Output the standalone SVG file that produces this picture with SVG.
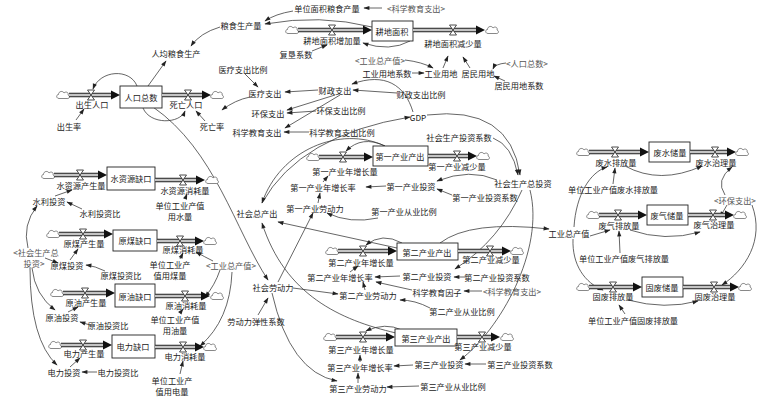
<svg xmlns="http://www.w3.org/2000/svg" width="766" height="402" viewBox="0 0 766 402">
<style>
text{font-family:"Noto Sans CJK SC","Noto Sans CJK JP",sans-serif;font-size:8.2px;fill:#222;text-anchor:middle;dominant-baseline:central}
.sh{fill:#555}
.box{fill:#fff;stroke:#222;stroke-width:0.9}
.po{fill:none;stroke:#222;stroke-width:4.6}
.pi{fill:none;stroke:#c4c4c4;stroke-width:2.4}
.ph{fill:#111}
.ln{fill:none;stroke:#333;stroke-width:0.75;marker-end:url(#a)}
</style>
<defs>
<marker id="a" viewBox="0 0 10 10" refX="9" refY="5" markerWidth="7" markerHeight="6" markerUnits="userSpaceOnUse" orient="auto"><path d="M0,1.5L10,5L0,8.5z" fill="#222"/></marker>
<path id="vl" d="M-3.5,-5h7l-7,10h7z" fill="#fff" stroke="#222" stroke-width="0.8"/>
<path id="cl" d="M-4,3.5C-7,3.5 -7,-0.5 -4.5,-0.5C-4.5,-4 0,-4.5 1,-2C3,-4 6,-2.5 5,0C7.5,1 6.5,4 4,3.5Z" fill="#fff" stroke="#555" stroke-width="0.7"/>
</defs>
<rect width="766" height="402" fill="#fff"/>

<g id="connectors">
<path class="ln" d="M293,11Q275,14 265,21"/>
<path class="ln" d="M372,27Q320,14 265,24"/>
<path class="ln" d="M382,8L364,8"/>
<path class="ln" d="M220,27Q200,33 191,46"/>
<path class="ln" d="M148,86L166,61"/>
<path class="ln" d="M312,51L327,45"/>
<path class="ln" d="M410,41Q390,52 363,43"/>
<path class="ln" d="M405,60Q422,62 433,68"/>
<path class="ln" d="M412,73L424,73"/>
<path class="ln" d="M443,68L448,56"/>
<path class="ln" d="M470,68L463,57"/>
<path class="ln" d="M506,63Q495,64 493,69"/>
<path class="ln" d="M505,81L494,76"/>
<path class="ln" d="M137,86C130,68 100,70 93,89"/>
<path class="ln" d="M76,120L84,109"/>
<path class="ln" d="M143,108C150,125 180,124 185,111"/>
<path class="ln" d="M205,121L196,111"/>
<path class="ln" d="M250,97Q235,100 222,110"/>
<path class="ln" d="M245,74L258,87"/>
<path class="ln" d="M318,90L285,92"/>
<path class="ln" d="M335,95L287,110"/>
<path class="ln" d="M340,95L285,128"/>
<path class="ln" d="M316,111L287,113"/>
<path class="ln" d="M309,132L284,132"/>
<path class="ln" d="M397,93L353,90"/>
<path class="ln" d="M413,112C405,85 385,72 352,84"/>
<path class="ln" d="M262,203Q300,135 410,117"/>
<path class="ln" d="M427,115Q510,105 520,175"/>
<path class="ln" d="M493,138Q512,145 518,175"/>
<path class="ln" d="M153,107C215,150 235,230 268,280"/>
<path class="ln" d="M385,146C340,125 280,150 262,203"/>
<path class="ln" d="M397,248L278,222"/>
<path class="ln" d="M396,333C340,320 285,295 262,223"/>
<path class="ln" d="M278,282L313,213"/>
<path class="ln" d="M293,288L338,294"/>
<path class="ln" d="M272,293Q290,372 337,381"/>
<path class="ln" d="M258,315L268,298"/>
<path class="ln" d="M385,146Q362,135 346,151"/>
<path class="ln" d="M323,182L328,176"/>
<path class="ln" d="M318,203L320,193"/>
<path class="ln" d="M386,186L366,187"/>
<path class="ln" d="M452,195L437,189"/>
<path class="ln" d="M497,180Q470,168 437,181"/>
<path class="ln" d="M378,218Q350,224 327,213"/>
<path class="ln" d="M402,243Q382,232 366,245"/>
<path class="ln" d="M350,272L358,266"/>
<path class="ln" d="M365,290L363,282"/>
<path class="ln" d="M400,276L375,277"/>
<path class="ln" d="M412,290L376,282"/>
<path class="ln" d="M467,277L454,277"/>
<path class="ln" d="M482,291L464,291"/>
<path class="ln" d="M430,308Q415,300 400,300"/>
<path class="ln" d="M522,190Q500,240 455,269"/>
<path class="ln" d="M440,243Q470,220 549,229"/>
<path class="ln" d="M402,330Q385,322 366,331"/>
<path class="ln" d="M360,362L360,355"/>
<path class="ln" d="M358,383L358,373"/>
<path class="ln" d="M413,365L394,366"/>
<path class="ln" d="M486,364L465,364"/>
<path class="ln" d="M419,386L387,387"/>
<path class="ln" d="M530,190C545,250 500,330 460,360"/>
<path class="ln" d="M574,227C576,195 590,172 607,167"/>
<path class="ln" d="M590,236L610,230"/>
<path class="ln" d="M573,239C572,265 585,283 603,290"/>
<path class="ln" d="M613,184L615,168"/>
<path class="ln" d="M625,166Q660,185 702,166"/>
<path class="ln" d="M725,195Q715,180 732,167"/>
<path class="ln" d="M727,205L720,217"/>
<path class="ln" d="M752,205C765,240 745,270 722,285"/>
<path class="ln" d="M630,230Q665,242 700,232"/>
<path class="ln" d="M620,253L619,231"/>
<path class="ln" d="M628,300Q665,310 698,301"/>
<path class="ln" d="M625,314L619,305"/>
<path class="ln" d="M82,209L67,202"/>
<path class="ln" d="M55,196L72,190"/>
<path class="ln" d="M28,248Q22,225 37,206"/>
<path class="ln" d="M45,258L58,263"/>
<path class="ln" d="M70,260L78,249"/>
<path class="ln" d="M105,271Q95,266 86,265"/>
<path class="ln" d="M32,268Q35,295 55,310"/>
<path class="ln" d="M30,268Q30,340 57,365"/>
<path class="ln" d="M68,312L78,307"/>
<path class="ln" d="M90,325L80,322"/>
<path class="ln" d="M70,367L80,358"/>
<path class="ln" d="M97,372L82,372"/>
<path class="ln" d="M185,199L187,194"/>
<path class="ln" d="M180,259L183,253"/>
<path class="ln" d="M180,313L183,309"/>
<path class="ln" d="M180,374L183,361"/>
<path class="ln" d="M213,261Q205,257 196,252"/>
<path class="ln" d="M220,270Q215,285 205,297"/>
<path class="ln" d="M232,272Q230,320 200,346"/>
</g>

<g id="stock-rkzs"><rect class="box" x="120" y="86" width="42" height="22"/><text x="141" y="97">人口总数</text></g>
<g id="stock-gdmj"><rect class="box" x="372" y="21" width="41" height="20"/><text x="392" y="31">耕地面积</text></g>
<g id="stock-szyqk"><rect class="box" x="107" y="167" width="48" height="23"/><text x="131" y="178">水资源缺口</text></g>
<g id="stock-ymqk"><rect class="box" x="113" y="230" width="44" height="21"/><text x="135" y="240">原煤缺口</text></g>
<g id="stock-yyqk"><rect class="box" x="115" y="284" width="40" height="23"/><text x="135" y="296">原油缺口</text></g>
<g id="stock-dlqk"><rect class="box" x="112" y="335" width="43" height="23"/><text x="133" y="346">电力缺口</text></g>
<g id="stock-dycy"><rect class="box" x="373" y="146" width="55" height="20"/><text x="400" y="156">第一产业产出</text></g>
<g id="stock-decy"><rect class="box" x="397" y="243" width="61" height="17"/><text x="427" y="252">第二产业产出</text></g>
<g id="stock-dscy"><rect class="box" x="395" y="329" width="62" height="17"/><text x="426" y="338">第三产业产出</text></g>
<g id="stock-fscl"><rect class="box" x="649" y="142" width="41" height="20"/><text x="670" y="152">废水储量</text></g>
<g id="stock-fqcl"><rect class="box" x="647" y="205" width="41" height="20"/><text x="667" y="215">废气储量</text></g>
<g id="stock-gfcl"><rect class="box" x="642" y="277" width="41" height="20"/><text x="662" y="287">固废储量</text></g>

<g id="flow-csrk"><use href="#cl" x="63" y="95"/><path class="po" d="M69,95H112"/><path class="pi" d="M69,95H112"/><path class="ph" d="M111,90.5L120,95L111,99.5z"/><use href="#vl" x="91" y="95"/><text x="92" y="104">出生人口</text></g>
<g id="flow-swrk"><path class="po" d="M162,95H203"/><path class="pi" d="M162,95H203"/><path class="ph" d="M202,90.5L211,95L202,99.5z"/><use href="#cl" x="217" y="95"/><use href="#vl" x="188" y="95"/><text x="186" y="104">死亡人口</text></g>
<g id="flow-gdzj"><use href="#cl" x="292" y="30"/><path class="po" d="M298,30H364"/><path class="pi" d="M298,30H364"/><path class="ph" d="M363,25.5L372,30L363,34.5z"/><use href="#vl" x="332" y="30"/><text x="332" y="40">耕地面积增加量</text></g>
<g id="flow-gdjs"><path class="po" d="M413,30H477"/><path class="pi" d="M413,30H477"/><path class="ph" d="M476,25.5L485,30L476,34.5z"/><use href="#cl" x="492" y="30"/><use href="#vl" x="453" y="30"/><text x="453" y="43">耕地面积减少量</text></g>
<g id="flow-szycs"><use href="#cl" x="48" y="175"/><path class="po" d="M54,175H99"/><path class="pi" d="M54,175H99"/><path class="ph" d="M98,170.5L107,175L98,179.5z"/><use href="#vl" x="80" y="175"/><text x="81" y="185">水资源产生量</text></g>
<g id="flow-szyxh"><path class="po" d="M155,180H197"/><path class="pi" d="M155,180H197"/><path class="ph" d="M196,175.5L205,180L196,184.5z"/><use href="#cl" x="212" y="180"/><use href="#vl" x="183" y="180"/><text x="185" y="190">水资源消耗量</text></g>
<g id="flow-ymcs"><use href="#cl" x="53" y="234"/><path class="po" d="M59,234H105"/><path class="pi" d="M59,234H105"/><path class="ph" d="M104,229.5L113,234L104,238.5z"/><use href="#vl" x="83" y="234"/><text x="84" y="243">原煤产生量</text></g>
<g id="flow-ymxh"><path class="po" d="M157,241H196"/><path class="pi" d="M157,241H196"/><path class="ph" d="M195,236.5L204,241L195,245.5z"/><use href="#cl" x="210" y="241"/><use href="#vl" x="180" y="241"/><text x="183" y="249">原煤消耗量</text></g>
<g id="flow-yycs"><use href="#cl" x="57" y="293"/><path class="po" d="M63,293H107"/><path class="pi" d="M63,293H107"/><path class="ph" d="M106,288.5L115,293L106,297.5z"/><use href="#vl" x="85" y="293"/><text x="86" y="302">原油产生量</text></g>
<g id="flow-yyxh"><path class="po" d="M155,296H202"/><path class="pi" d="M155,296H202"/><path class="ph" d="M201,291.5L210,296L201,300.5z"/><use href="#cl" x="217" y="296"/><use href="#vl" x="185" y="296"/><text x="186" y="305">原油消耗量</text></g>
<g id="flow-dlcs"><use href="#cl" x="55" y="345"/><path class="po" d="M61,345H104"/><path class="pi" d="M61,345H104"/><path class="ph" d="M103,340.5L112,345L103,349.5z"/><use href="#vl" x="83" y="345"/><text x="84" y="353">电力产生量</text></g>
<g id="flow-dlxh"><path class="po" d="M155,347H196"/><path class="pi" d="M155,347H196"/><path class="ph" d="M195,342.5L204,347L195,351.5z"/><use href="#cl" x="210" y="347"/><use href="#vl" x="183" y="347"/><text x="185" y="356">电力消耗量</text></g>
<g id="flow-dyzz"><use href="#cl" x="313" y="157"/><path class="po" d="M319,157H365"/><path class="pi" d="M319,157H365"/><path class="ph" d="M364,152.5L373,157L364,161.5z"/><use href="#vl" x="343" y="157"/><text x="345" y="171">第一产业年增长量</text></g>
<g id="flow-dyjs"><path class="po" d="M428,156H469"/><path class="pi" d="M428,156H469"/><path class="ph" d="M468,151.5L477,156L468,160.5z"/><use href="#cl" x="483" y="156"/><use href="#vl" x="457" y="156"/><text x="457" y="166">第一产业减少量</text></g>
<g id="flow-dezz"><use href="#cl" x="332" y="251"/><path class="po" d="M338,251H389"/><path class="pi" d="M338,251H389"/><path class="ph" d="M388,246.5L397,251L388,255.5z"/><use href="#vl" x="363" y="251"/><text x="361" y="262">第二产业年增长量</text></g>
<g id="flow-dejs"><path class="po" d="M458,251H503"/><path class="pi" d="M458,251H503"/><path class="ph" d="M502,246.5L511,251L502,255.5z"/><use href="#cl" x="517" y="251"/><use href="#vl" x="490" y="251"/><text x="491" y="259">第二产业减少量</text></g>
<g id="flow-dszz"><use href="#cl" x="330" y="337"/><path class="po" d="M336,337H387"/><path class="pi" d="M336,337H387"/><path class="ph" d="M386,332.5L395,337L386,341.5z"/><use href="#vl" x="363" y="337"/><text x="361" y="349">第三产业年增长量</text></g>
<g id="flow-dsjs"><path class="po" d="M457,337H492"/><path class="pi" d="M457,337H492"/><path class="ph" d="M491,332.5L500,337L491,341.5z"/><use href="#cl" x="507" y="337"/><use href="#vl" x="482" y="337"/><text x="483" y="346">第三产业减少量</text></g>
<g id="flow-fspf"><use href="#cl" x="583" y="152"/><path class="po" d="M589,152H641"/><path class="pi" d="M589,152H641"/><path class="ph" d="M640,147.5L649,152L640,156.5z"/><use href="#vl" x="615" y="152"/><text x="616" y="162">废水排放量</text></g>
<g id="flow-fszl"><path class="po" d="M690,152H728"/><path class="pi" d="M690,152H728"/><path class="ph" d="M727,147.5L736,152L727,156.5z"/><use href="#cl" x="742" y="152"/><use href="#vl" x="715" y="152"/><text x="716" y="162">废水治理量</text></g>
<g id="flow-fqpf"><use href="#cl" x="593" y="215"/><path class="po" d="M599,215H639"/><path class="pi" d="M599,215H639"/><path class="ph" d="M638,210.5L647,215L638,219.5z"/><use href="#vl" x="618" y="215"/><text x="619" y="225">废气排放量</text></g>
<g id="flow-fqzl"><path class="po" d="M688,215H726"/><path class="pi" d="M688,215H726"/><path class="ph" d="M725,210.5L734,215L725,219.5z"/><use href="#cl" x="740" y="215"/><use href="#vl" x="713" y="215"/><text x="714" y="224">废气治理量</text></g>
<g id="flow-gfpf"><use href="#cl" x="583" y="287"/><path class="po" d="M589,287H634"/><path class="pi" d="M589,287H634"/><path class="ph" d="M633,282.5L642,287L633,291.5z"/><use href="#vl" x="613" y="287"/><text x="613" y="296">固废排放量</text></g>
<g id="flow-gfzl"><path class="po" d="M683,287H731"/><path class="pi" d="M683,287H731"/><path class="ph" d="M730,282.5L739,287L730,291.5z"/><use href="#cl" x="745" y="287"/><use href="#vl" x="714" y="287"/><text x="715" y="296">固废治理量</text></g>

<g id="aux">
<g id="v-rjls"><text x="176" y="53">人均粮食生产</text></g>
<g id="v-lscl"><text x="241" y="25">粮食生产量</text></g>
<g id="v-dwmj"><text x="327" y="8">单位面积粮食产量</text></g>
<g id="v-kxjy1"><text class="sh" x="416" y="8">&lt;科学教育支出&gt;</text></g>
<g id="v-fkxs"><text x="296" y="54">复垦系数</text></g>
<g id="v-gyzcz1"><text class="sh" x="380" y="60">&lt;工业总产值&gt;</text></g>
<g id="v-gyydxs"><text x="387" y="73">工业用地系数</text></g>
<g id="v-gyyd"><text x="441" y="73">工业用地</text></g>
<g id="v-jmyd"><text x="478" y="73">居民用地</text></g>
<g id="v-rkzs2"><text class="sh" x="527" y="63">&lt;人口总数&gt;</text></g>
<g id="v-jmydxs"><text x="519" y="85">居民用地系数</text></g>
<g id="v-ylzcbl"><text x="243" y="69">医疗支出比例</text></g>
<g id="v-ylzc"><text x="265" y="93">医疗支出</text></g>
<g id="v-czzc"><text x="335" y="90">财政支出</text></g>
<g id="v-czzcbl"><text x="421" y="94">财政支出比例</text></g>
<g id="v-hbzc"><text x="268" y="113">环保支出</text></g>
<g id="v-hbzcbl"><text x="341" y="110">环保支出比例</text></g>
<g id="v-swl"><text x="212" y="126">死亡率</text></g>
<g id="v-csl"><text x="69" y="126">出生率</text></g>
<g id="v-kxjyzc"><text x="257" y="132">科学教育支出</text></g>
<g id="v-kxjybl"><text x="342" y="132">科学教育支出比例</text></g>
<g id="v-gdp"><text x="418" y="117">GDP</text></g>
<g id="v-shtzxs"><text x="459" y="137">社会生产投资系数</text></g>
<g id="v-shztz"><text x="523" y="183">社会生产总投资</text></g>
<g id="v-dyzzl"><text x="323" y="187">第一产业年增长率</text></g>
<g id="v-dytz"><text x="411" y="186">第一产业投资</text></g>
<g id="v-dytzxs"><text x="485" y="197">第一产业投资系数</text></g>
<g id="v-dyldl"><text x="315" y="208">第一产业劳动力</text></g>
<g id="v-dycybl"><text x="404" y="211">第一产业从业比例</text></g>
<g id="v-shzcc"><text x="257" y="213">社会总产出</text></g>
<g id="v-gyzcz"><text x="569" y="233">工业总产值</text></g>
<g id="v-fsxs"><text x="613" y="189">单位工业产值废水排放量</text></g>
<g id="v-hbzc2"><text class="sh" x="735" y="200">&lt;环保支出&gt;</text></g>
<g id="v-fqxs"><text x="624" y="258">单位工业产值废气排放量</text></g>
<g id="v-gfxs"><text x="633" y="320">单位工业产值固废排放量</text></g>
<g id="v-sltz"><text x="49" y="201">水利投资</text></g>
<g id="v-sltzb"><text x="100" y="213">水利投资比</text></g>
<g id="v-ysl"><text x="180" y="204.5">单位工业产值</text><text x="180" y="215.5">用水量</text></g>
<g id="v-shztz2"><text class="sh" x="36" y="251.5">&lt;社会生产总</text><text class="sh" x="34" y="262.5">投资&gt;</text></g>
<g id="v-ymtz"><text x="67" y="265">原煤投资</text></g>
<g id="v-ymtzb"><text x="121" y="275">原煤投资比</text></g>
<g id="v-yml"><text x="170" y="264">单位工业产</text><text x="170" y="275">值用煤量</text></g>
<g id="v-gyzcz2"><text class="sh" x="231" y="265">&lt;工业总产值&gt;</text></g>
<g id="v-yytz"><text x="62" y="317">原油投资</text></g>
<g id="v-yytzb"><text x="108" y="325">原油投资比</text></g>
<g id="v-yyl"><text x="175" y="319">单位工业产值</text><text x="175" y="330">用油量</text></g>
<g id="v-dltz"><text x="64" y="372">电力投资</text></g>
<g id="v-dltzb"><text x="118" y="372">电力投资比</text></g>
<g id="v-ydl"><text x="172" y="379.5">单位工业产</text><text x="172" y="390.5">值用电量</text></g>
<g id="v-shldl"><text x="273" y="287">社会劳动力</text></g>
<g id="v-ldltx"><text x="256" y="321">劳动力弹性系数</text></g>
<g id="v-dezzl"><text x="340" y="277">第二产业年增长率</text></g>
<g id="v-detz"><text x="427" y="276">第二产业投资</text></g>
<g id="v-detzxs"><text x="497" y="277">第二产业投资系数</text></g>
<g id="v-kxjyyz"><text x="437" y="292">科学教育因子</text></g>
<g id="v-kxjy2"><text class="sh" x="512" y="291">&lt;科学教育支出&gt;</text></g>
<g id="v-deldl"><text x="368" y="295">第二产业劳动力</text></g>
<g id="v-decybl"><text x="462" y="311">第二产业从业比例</text></g>
<g id="v-dszzl"><text x="360" y="367">第三产业年增长率</text></g>
<g id="v-dstz"><text x="439" y="364">第三产业投资</text></g>
<g id="v-dstzxs"><text x="520" y="364">第三产业投资系数</text></g>
<g id="v-dsldl"><text x="358" y="388">第三产业劳动力</text></g>
<g id="v-dscybl"><text x="453" y="386">第三产业从业比例</text></g>
</g>
</svg>
